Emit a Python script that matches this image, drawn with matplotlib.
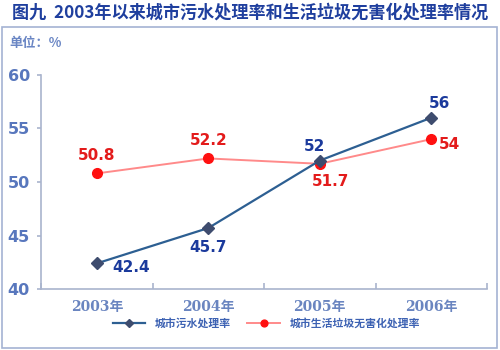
import matplotlib
matplotlib.use("Agg")
import matplotlib.pyplot as plt
from matplotlib.patches import Rectangle

# ---------------------------------
# Data
# ---------------------------------
years = ["2003年", "2004年", "2005年", "2006年"]
sewage_rate = [42.4, 45.7, 52.0, 56.0]
garbage_rate = [50.8, 52.2, 51.7, 54.0]
sewage_labels = ["42.4", "45.7", "52", "56"]
garbage_labels = ["50.8", "52.2", "51.7", "54"]

CJK = ["Noto Sans CJK SC", "DejaVu Sans"]
SERIF = ["DejaVu Serif", "Noto Sans CJK SC"]

BLUE_LINE = "#2d5f92"
BLUE_MARK = "#3e4c6e"
BLUE_TEXT = "#1b3a9c"
RED_LINE = "#ff8a8a"
RED_MARK = "#ff1010"
RED_TEXT = "#e31b1b"
AXIS_TEXT = "#5877bd"
AXIS_LINE = "#a9b4cd"

# ---------------------------------
# Figure & frame
# ---------------------------------
fig = plt.figure(figsize=(5, 3.5), dpi=100)
fig.patch.set_facecolor("white")

fig.text(0.5, 0.963, "图九  2003年以来城市污水处理率和生活垃圾无害化处理率情况",
         ha="center", va="center", fontsize=12.3, fontweight="bold",
         color="#1f3f9e", family=CJK)

fig.patches.append(Rectangle((0.004, 0.006), 0.99, 0.917, transform=fig.transFigure,
                             fill=False, edgecolor="#a4b3d3", linewidth=1.2))

fig.text(0.018, 0.877, "单位：%", ha="left", va="center", fontsize=9.5,
         fontweight="bold", color="#6a86c4", family=CJK)

# ---------------------------------
# Chart
# ---------------------------------
ax = fig.add_axes([0.082, 0.174, 0.892, 0.612])
x = list(range(len(years)))

ax.plot(x, sewage_rate, color=BLUE_LINE, linewidth=1.6, marker="D",
        markersize=6, markerfacecolor=BLUE_MARK, markeredgecolor=BLUE_MARK,
        label="城市污水处理率", zorder=3)
ax.plot(x, garbage_rate, color=RED_LINE, linewidth=1.4, marker="o",
        markersize=7, markerfacecolor=RED_MARK, markeredgecolor=RED_MARK,
        label="城市生活垃圾无害化处理率", zorder=2)

# value labels (offsets in points)
sewage_offsets = [(25, -3), (0, -14), (-4, 10), (6, 10)]
garbage_offsets = [(0, 13), (0, 13), (8, -13), (13, -4)]
for xi, v, s, off in zip(x, sewage_rate, sewage_labels, sewage_offsets):
    ax.annotate(s, (xi, v), xytext=off, textcoords="offset points",
                ha="center", va="center", fontsize=11, fontweight="bold",
                color=BLUE_TEXT)
for xi, v, s, off in zip(x, garbage_rate, garbage_labels, garbage_offsets):
    ax.annotate(s, (xi, v), xytext=off, textcoords="offset points",
                ha="center", va="center", fontsize=11, fontweight="bold",
                color=RED_TEXT)

ax.set_xlim(-0.5, len(years) - 0.5)
ax.set_ylim(40, 60)
ax.set_yticks([40, 45, 50, 55, 60])
ax.set_xticks(x)
ax.set_xticklabels(years, family=SERIF, fontweight="bold", fontsize=10,
                   color="#6a85c0")
ax.set_xticks([i + 0.5 for i in range(-1, len(years))], minor=True)
ax.tick_params(axis="x", which="major", length=0, pad=8)
ax.tick_params(axis="x", which="minor", direction="in", length=4,
               color=AXIS_LINE, width=1.2)
ax.tick_params(axis="y", direction="out", length=3, color=AXIS_LINE,
               labelsize=11.5, labelcolor=AXIS_TEXT, pad=5, width=1.2)
for lab in ax.get_yticklabels():
    lab.set_fontweight("bold")

for side in ["top", "right"]:
    ax.spines[side].set_visible(False)
for side in ["left", "bottom"]:
    ax.spines[side].set_color(AXIS_LINE)
    ax.spines[side].set_linewidth(1.2)

# ---------------------------------
# Legend
# ---------------------------------
leg = fig.legend(loc="center", bbox_to_anchor=(0.533, 0.077), ncol=2,
                 frameon=False, handlelength=3.0, handletextpad=0.9,
                 columnspacing=1.5, markerscale=0.7,
                 prop={"family": CJK, "size": 7.8, "weight": "bold"})
for t in leg.get_texts():
    t.set_color("#3d62b3")

fig.savefig("out.png", dpi=100)
